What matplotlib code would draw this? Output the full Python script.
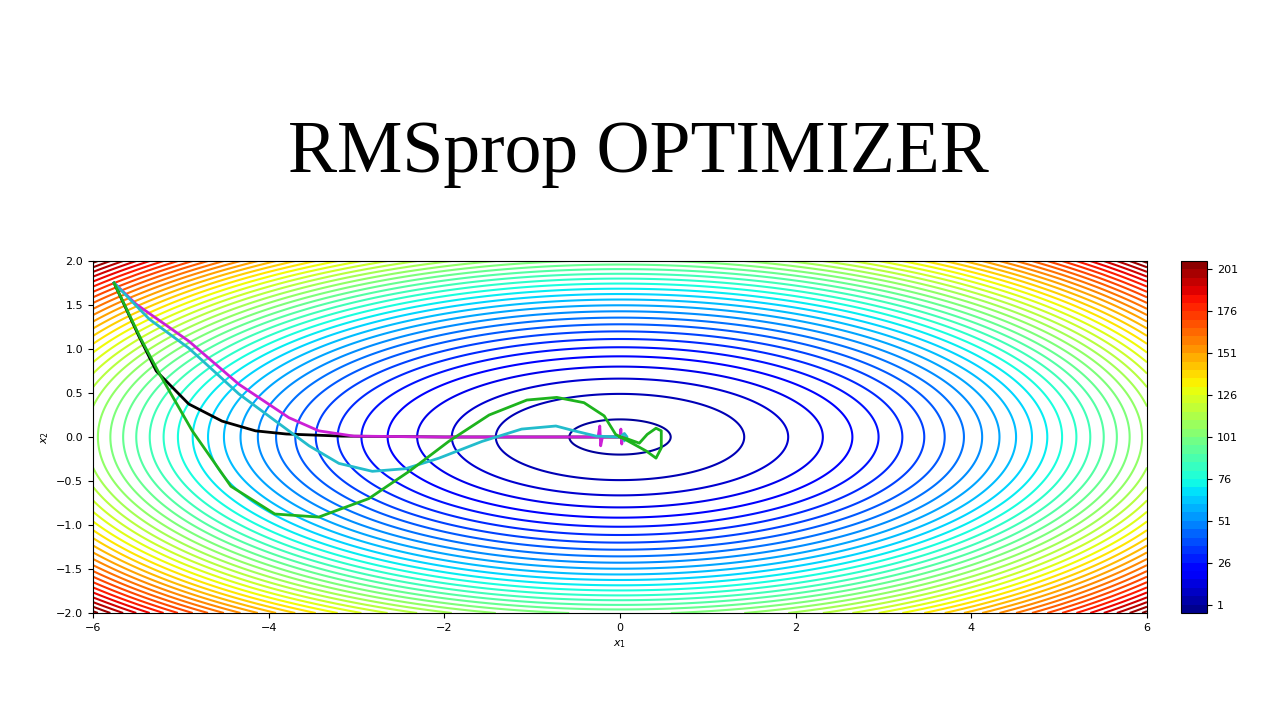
import numpy as np
import matplotlib
matplotlib.use("Agg")
import matplotlib.pyplot as plt
from matplotlib.cm import ScalarMappable
from matplotlib.colors import Normalize

# objective  f(x1, x2) = 3*x1^2 + 25*x2^2, contour levels every 5
coef_x1 = 3.0
coef_x2 = 25.0
levels = np.arange(-4, 207, 5)
cbar_ticks = levels[1::5]

# optimizer paths
black_x = [-5.76, -5.48, -5.28, -4.91, -4.53, -4.15, -3.80, -3.17, -2.0, -1.0, -0.3, 0.0]
black_y = [1.75, 1.15, 0.75, 0.375, 0.18, 0.07, 0.034, 0.01, 0.0, 0.0, 0.0, 0.0]

magenta_x = [-5.76, -5.51, -4.91, -4.34, -3.77, -3.43, -3.03, -2.0, -1.0, -0.30,
             -0.25, -0.23, -0.22, -0.20, -0.1, 0.0, 0.01, 0.02, 0.03, 0.05]
magenta_y = [1.75, 1.51, 1.09, 0.60, 0.22, 0.07, 0.01, 0.0, 0.0, 0.0,
             0.0, 0.125, -0.10, 0.0, 0.0, 0.0, 0.09, -0.08, 0.0, 0.0]

teal_x = [-5.76, -5.36, -4.91, -4.34, -3.92, -3.54, -3.20, -2.82, -2.44, -2.06,
          -1.57, -1.12, -0.73, -0.52, -0.27, 0.0, 0.05, 0.08, 0.05]
teal_y = [1.75, 1.34, 1.01, 0.49, 0.18, -0.10, -0.30, -0.39, -0.36, -0.24,
          -0.05, 0.09, 0.125, 0.07, 0.01, 0.0, 0.04, 0.0, -0.04]

green_x = [-5.76, -5.46, -5.25, -4.87, -4.43, -3.93, -3.43, -2.86, -2.40, -1.95,
           -1.49, -1.06, -0.72, -0.41, -0.18, -0.05, 0.10, 0.30, 0.41, 0.47,
           0.47, 0.41, 0.31, 0.22, 0.08, 0.0]
green_y = [1.75, 1.125, 0.73, 0.07, -0.56, -0.875, -0.91, -0.70, -0.39, -0.05,
           0.25, 0.42, 0.45, 0.39, 0.24, 0.03, -0.05, -0.16, -0.24, -0.125,
           0.07, 0.10, 0.03, -0.07, -0.02, 0.0]

fig = plt.figure(figsize=(12.8, 7.2), dpi=100)
fig.text(638.5 / 1280, 1 - 172 / 720, 'RMSprop OPTIMIZER', family='Liberation Serif',
         fontsize=53, ha='center', va='baseline')

ax = fig.add_axes([93 / 1280, 107 / 720, 1054 / 1280, 352 / 720])
cax = fig.add_axes([1181 / 1280, 107 / 720, 26 / 1280, 352 / 720])

x1 = np.linspace(-6, 6, 600)
x2 = np.linspace(-2, 2, 300)
X1, X2 = np.meshgrid(x1, x2)
Z = coef_x1 * X1 ** 2 + coef_x2 * X2 ** 2

cs = ax.contour(X1, X2, Z, levels=levels, cmap='jet', linewidths=1.5)

ax.plot(black_x, black_y, color='black', lw=2)
ax.plot(magenta_x, magenta_y, color='#cc1fd6', lw=2)
ax.plot(teal_x, teal_y, color='#22bccc', lw=2)
ax.plot(green_x, green_y, color='#1db31d', lw=2)

ax.set_xlim(-6, 6)
ax.set_ylim(-2, 2)
ax.set_xlabel('$x_1$', fontsize=8)
ax.set_ylabel('$x_2$', fontsize=8)
ax.tick_params(labelsize=8)

# solid banded colorbar, one band per contour level
norm = Normalize(vmin=levels[0], vmax=levels[-1])
sm = ScalarMappable(norm=norm, cmap='jet')
bounds = np.linspace(levels[0], levels[-1], len(levels))
cb = fig.colorbar(sm, cax=cax, boundaries=bounds, ticks=cbar_ticks)
cb.ax.tick_params(labelsize=8)

fig.savefig('out.png', dpi=100)
